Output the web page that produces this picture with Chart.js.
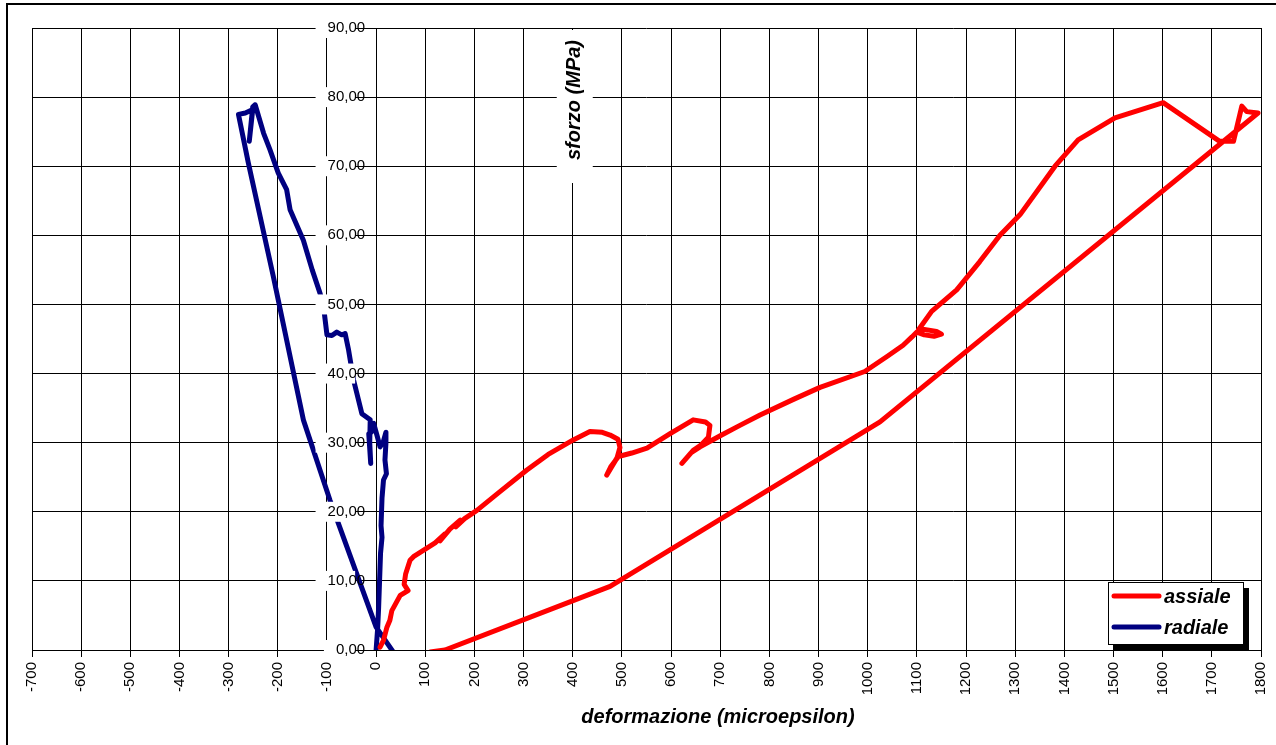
<!DOCTYPE html>
<html>
<head>
<meta charset="utf-8">
<script src="https://cdn.jsdelivr.net/npm/chart.js@4.4.1/dist/chart.umd.min.js"></script>
<style>
  body { margin: 0; background: #fff; }
  #wrap { width: 1276px; height: 745px; }
</style>
</head>
<body>
<div id="wrap"><canvas id="chartSforzo" width="1276" height="745"></canvas></div>
<script>
// series names
const seriesNames = ["assiale", "radiale"];
const seriesColors = ["#ff0000", "#000080"];

// assiale (red) - deformazione / sforzo
const assialeX = [8, 15, 22, 28, 32, 49, 65, 57, 60, 69, 76, 96, 120, 140, 130, 150, 171, 162, 180, 205, 250, 306, 350, 401, 435, 460, 476, 492, 496, 490, 469, 478, 493, 520, 551, 598, 645, 670, 679, 676, 660, 645, 622, 640, 659, 700, 740, 781, 850, 903, 994, 1040, 1072, 1090, 1100, 1115, 1135, 1150, 1140, 1112, 1103, 1130, 1181, 1228, 1269, 1310, 1381, 1428, 1503, 1601, 1716, 1744, 1761, 1771, 1794, 1025, 476, 140, 110];
const assialeY = [0.4, 1.4, 3.3, 4.3, 5.7, 7.9, 8.6, 9.5, 11, 13, 13.5, 14.4, 15.5, 16.8, 15.8, 17.5, 18.8, 17.8, 19, 20.2, 22.8, 26, 28.3, 30.4, 31.6, 31.5, 31.1, 30.5, 29.3, 27.8, 25.3, 26.6, 28, 28.5, 29.2, 31.3, 33.3, 33, 32.5, 30.8, 29.6, 28.9, 27, 28.5, 29.4, 31, 32.5, 34, 36.3, 38, 40.3, 42.5, 44.1, 45.3, 46, 45.6, 45.4, 45.7, 46.1, 46.4, 46.3, 49, 52.1, 56.2, 60, 63, 70, 73.8, 77, 79.2, 73.6, 73.6, 78.7, 77.9, 77.7, 33, 9.2, 0, -0.3];

// radiale (blue)
const radialeX = [0, 3, 5, 7, 9, 12, 10, 12, 15, 21, 18, 20, 20, 14, 8, 2, -5, -10, -15, -11, -13, -12, -29, -46, -56, -63, -70, -80, -90, -100, -107, -114, -130, -148, -175, -182, -199, -216, -229, -246, -251, -258, -251, -266, -280, -260, -209, -148, -94, 0, 35];
const radialeY = [0, 3, 6, 10, 14, 16.3, 18, 22, 24.6, 25.5, 27.5, 30, 31.5, 30, 29.4, 31, 32.8, 31.5, 31.3, 27, 30, 33.3, 34.2, 39.1, 43.4, 45.8, 45.6, 46, 45.5, 45.6, 49.7, 51.6, 55, 59.3, 63.7, 66.6, 69, 72.4, 74.8, 78.9, 78.6, 73.6, 78.2, 77.7, 77.5, 70.5, 54, 33.3, 21.7, 3.3, -0.3];

// axes
const xMin = -700, xMax = 1800, xStep = 100;
const yMin = 0, yMax = 90, yStep = 10;
const xTitle = "deformazione (microepsilon)";
const yTitle = "sforzo (MPa)";

const toPoints = (xs, ys) => xs.map((x, i) => ({ x: x, y: ys[i] }));

const titleFont = "italic bold 20px 'Liberation Sans', Arial, sans-serif";

// border, titles and legend like the excel sheet
const decorations = {
  id: "decorations",
  beforeDraw(chart) {
    const ctx = chart.ctx;
    ctx.save();
    ctx.fillStyle = "#fff";
    ctx.fillRect(0, 0, chart.width, chart.height);
    ctx.strokeStyle = "#000";
    ctx.lineWidth = 2;
    ctx.strokeRect(7, 4, chart.width + 20, chart.height + 20);
    ctx.restore();

    // y labels sit at the axis when it is placed at x=0, push them left of the tick
    const yScale = chart.scales.y;
    const gap = 11;
    if (!yScale._shifted) {
      yScale.getLabelItems(chart.chartArea).forEach(function (item) {
        item.options.translation[0] -= gap;
        if (item.options.backdrop) item.options.backdrop.left -= gap;
      });
      yScale._shifted = true;
    }
  },
  afterDraw(chart) {
    const ctx = chart.ctx;
    const area = chart.chartArea;
    ctx.save();

    // y title (inside the plot, white box)
    const yx = chart.scales.x.getPixelForValue(400) + 2;
    ctx.fillStyle = "#fff";
    ctx.fillRect(yx - 18, area.top + 2, 36, 153);
    ctx.translate(yx, 100);
    ctx.rotate(-Math.PI / 2);
    ctx.fillStyle = "#000";
    ctx.font = titleFont;
    ctx.textAlign = "center";
    ctx.textBaseline = "middle";
    ctx.fillText(yTitle, 0, 0);
    ctx.setTransform(1, 0, 0, 1, 0, 0);

    // x title
    ctx.font = titleFont;
    ctx.textAlign = "center";
    ctx.textBaseline = "middle";
    ctx.fillText(xTitle, 718, 717);

    // legend
    const lx = 1108, ly = 582, lw = 135, lh = 62;
    ctx.fillStyle = "#000";
    ctx.fillRect(lx + 6, ly + 6, lw, lh);
    ctx.fillStyle = "#fff";
    ctx.fillRect(lx, ly, lw, lh);
    ctx.strokeStyle = "#000";
    ctx.lineWidth = 1;
    ctx.strokeRect(lx + 0.5, ly + 0.5, lw, lh);
    chart.data.datasets.forEach(function (ds, i) {
      const yy = ly + 14 + i * 31;
      ctx.strokeStyle = ds.borderColor;
      ctx.lineWidth = 5;
      ctx.lineCap = "round";
      ctx.beginPath();
      ctx.moveTo(lx + 6, yy);
      ctx.lineTo(lx + 51, yy);
      ctx.stroke();
      ctx.fillStyle = "#000";
      ctx.font = titleFont;
      ctx.textAlign = "left";
      ctx.textBaseline = "middle";
      ctx.fillText(ds.label, lx + 56, yy + 1);
    });
    ctx.restore();
  }
};

const ctxS = document.getElementById("chartSforzo").getContext("2d");
const sforzoChart = new Chart(ctxS, {
  type: "scatter",
  data: {
    datasets: [{
      label: seriesNames[0],
      data: toPoints(assialeX, assialeY),
      borderColor: seriesColors[0],
      backgroundColor: seriesColors[0],
      showLine: true,
      borderWidth: 5,
      pointRadius: 0,
      tension: 0,
      borderJoinStyle: "round",
      borderCapStyle: "round"
    }, {
      label: seriesNames[1],
      data: toPoints(radialeX, radialeY),
      borderColor: seriesColors[1],
      backgroundColor: seriesColors[1],
      showLine: true,
      borderWidth: 5,
      pointRadius: 0,
      tension: 0,
      borderJoinStyle: "round",
      borderCapStyle: "round"
    }]
  },
  options: {
    responsive: false,
    animation: false,
    events: [],
    layout: { padding: { left: 32, top: 28, right: 15, bottom: 0 } },
    plugins: {
      legend: { display: false },
      tooltip: { enabled: false }
    },
    scales: {
      x: {
        type: "linear",
        min: xMin,
        max: xMax,
        afterFit: function (scale) {
          scale.height = 95;
          scale.paddingLeft = 0;
          scale.paddingRight = 0;
        },
        grid: { color: "#000", lineWidth: 1, tickLength: 7, drawTicks: true },
        border: { color: "#000", width: 1 },
        ticks: {
          stepSize: xStep,
          autoSkip: false,
          minRotation: 90,
          maxRotation: 90,
          padding: 5,
          color: "#000",
          font: { family: "'Liberation Sans', Arial, sans-serif", size: 15 },
          callback: function (v) { return String(v); }
        }
      },
      y: {
        type: "linear",
        min: yMin,
        max: yMax,
        position: { x: 0 },
        grid: { color: "#000", lineWidth: 1, tickLength: 8, drawTicks: true },
        border: { color: "#000", width: 1 },
        ticks: {
          stepSize: yStep,
          padding: 3,
          z: 1,
          color: "#000",
          showLabelBackdrop: true,
          backdropColor: "#fff",
          backdropPadding: 1,
          font: { family: "'Liberation Sans', Arial, sans-serif", size: 15 },
          callback: function (v) { return v.toFixed(2).replace(".", ","); }
        }
      }
    }
  },
  plugins: [decorations]
});
</script>
</body>
</html>
